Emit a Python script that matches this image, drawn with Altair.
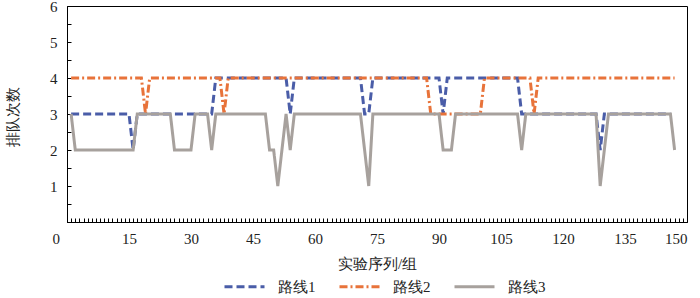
import altair as alt
import pandas as pd

series_names = ["路线1", "路线2", "路线3"]

route1 = [
    3, 3, 3, 3, 3, 3, 3, 3, 3, 3,
    3, 3, 3, 3, 3, 2, 3, 3, 3, 3,
    3, 3, 3, 3, 3, 3, 3, 3, 3, 3,
    3, 3, 3, 3, 3, 4, 4, 4, 4, 4,
    4, 4, 4, 4, 4, 4, 4, 4, 4, 4,
    4, 4, 4, 3, 4, 4, 4, 4, 4, 4,
    4, 4, 4, 4, 4, 4, 4, 4, 4, 4,
    4, 3, 3, 4, 4, 4, 4, 4, 4, 4,
    4, 4, 4, 4, 4, 4, 4, 4, 4, 4,
    3, 4, 4, 4, 4, 4, 4, 4, 4, 4,
    4, 4, 4, 4, 4, 4, 4, 4, 4, 3,
    3, 3, 3, 3, 3, 3, 3, 3, 3, 3,
    3, 3, 3, 3, 3, 3, 3, 3, 2, 3,
    3, 3, 3, 3, 3, 3, 3, 3, 3, 3,
    3, 3, 3, 3, 3, 3,
]

route2 = [
    4, 4, 4, 4, 4, 4, 4, 4, 4, 4,
    4, 4, 4, 4, 4, 4, 4, 4, 3, 4,
    4, 4, 4, 4, 4, 4, 4, 4, 4, 4,
    4, 4, 4, 4, 4, 4, 4, 3, 4, 4,
    4, 4, 4, 4, 4, 4, 4, 4, 4, 4,
    4, 4, 4, 4, 4, 4, 4, 4, 4, 4,
    4, 4, 4, 4, 4, 4, 4, 4, 4, 4,
    4, 4, 4, 4, 4, 4, 4, 4, 4, 4,
    4, 4, 4, 4, 4, 4, 4, 3, 3, 3,
    3, 3, 3, 3, 3, 3, 3, 3, 3, 3,
    4, 4, 4, 4, 4, 4, 4, 4, 4, 4,
    4, 4, 3, 4, 4, 4, 4, 4, 4, 4,
    4, 4, 4, 4, 4, 4, 4, 4, 4, 4,
    4, 4, 4, 4, 4, 4, 4, 4, 4, 4,
    4, 4, 4, 4, 4, 4, 4,
]

route3 = [
    3, 2, 2, 2, 2, 2, 2, 2, 2, 2,
    2, 2, 2, 2, 2, 2, 3, 3, 3, 3,
    3, 3, 3, 3, 3, 2, 2, 2, 2, 2,
    3, 3, 3, 3, 2, 3, 3, 3, 3, 3,
    3, 3, 3, 3, 3, 3, 3, 3, 2, 2,
    1, 2, 3, 2, 3, 3, 3, 3, 3, 3,
    3, 3, 3, 3, 3, 3, 3, 3, 3, 3,
    3, 2, 1, 3, 3, 3, 3, 3, 3, 3,
    3, 3, 3, 3, 3, 3, 3, 3, 3, 3,
    2, 2, 2, 3, 3, 3, 3, 3, 3, 3,
    3, 3, 3, 3, 3, 3, 3, 3, 3, 2,
    3, 3, 3, 3, 3, 3, 3, 3, 3, 3,
    3, 3, 3, 3, 3, 3, 3, 3, 1, 2,
    3, 3, 3, 3, 3, 3, 3, 3, 3, 3,
    3, 3, 3, 3, 3, 3, 2,
]

x_labels = [0, 15, 30, 45, 60, 75, 90, 105, 120, 135, 150]
y_labels = [1, 2, 3, 4, 5, 6]
x_minor = list(range(0, 151))
y_minor = [0, 0.5, 1, 1.5, 2, 2.5, 3, 3.5, 4, 4.5, 5, 5.5, 6]

colors = ["#4A5DA8", "#E8733A", "#A7A19D"]
dashes = [[8, 4], [8, 3, 2, 3], [1, 0]]

rows = []
for name, vals in zip(series_names, [route1, route2, route3]):
    for i, v in enumerate(vals):
        rows.append({"seq": i + 1, "count": v, "route": name})
df = pd.DataFrame(rows)

FONT = "Liberation Serif"

xscale = alt.Scale(domain=[0, 150], nice=False, zero=False)
yscale = alt.Scale(domain=[0, 6], nice=False)

legend = alt.Legend(
    title=None,
    orient="none",
    legendX=156,
    legendY=259,
    direction="horizontal",
    symbolType="stroke",
    symbolSize=1600,
    symbolStrokeWidth=3,
    labelFont=FONT,
    labelFontSize=15,
    labelColor="#222222",
    labelOffset=12,
    columnPadding=17,
)

lines = alt.Chart(df).mark_line(strokeWidth=3).encode(
    x=alt.X(
        "seq:Q",
        scale=xscale,
        axis=alt.Axis(
            values=x_labels,
            ticks=False,
            grid=False,
            domain=True,
            domainColor="black",
            labelFont=FONT,
            labelFontSize=15,
            labelPadding=9,
            labelOffset={"expr": "datum.value == 0 ? -15 : 0"},
            title="实验序列/组",
            titlePadding=10,
        ),
    ),
    y=alt.Y(
        "count:Q",
        scale=yscale,
        axis=alt.Axis(
            values=y_labels,
            ticks=False,
            grid=False,
            domain=True,
            domainColor="black",
            labelFont=FONT,
            labelFontSize=15,
            labelPadding=10,
            title="排队次数",
            titleX=-55,
            titleY=110,
            titleAngle=270,
            titleAlign="center",
            titleBaseline="middle",
        ),
    ),
    color=alt.Color("route:N", scale=alt.Scale(domain=series_names, range=colors), legend=legend),
    strokeDash=alt.StrokeDash("route:N", scale=alt.Scale(domain=series_names, range=dashes), legend=legend),
    order=alt.Order("seq:Q"),
)

ticks_layer = alt.Chart(df).mark_line(opacity=0).encode(
    x=alt.X(
        "seq:Q",
        scale=xscale,
        axis=alt.Axis(
            orient="bottom",
            values=x_minor,
            labels=False,
            domain=False,
            grid=False,
            ticks=True,
            tickSize=4,
            tickColor="black",
            offset=-4,
            title=None,
        ),
    ),
    y=alt.Y(
        "count:Q",
        scale=yscale,
        axis=alt.Axis(
            orient="left",
            values=y_minor,
            labels=False,
            domain=False,
            grid=False,
            ticks=True,
            tickSize=4,
            tickColor="black",
            offset=-4,
            title=None,
        ),
    ),
    detail="route:N",
)

chart = (
    alt.layer(lines, ticks_layer)
    .resolve_axis(x="independent", y="independent")
    .properties(
        width=620,
        height=216,
        padding={"left": 67, "top": 6, "right": 13, "bottom": 76},
        autosize=alt.AutoSizeParams(type="none"),
        background="white",
    )
    .configure(
        font=FONT,
        style={
            "guide-label": {"font": FONT, "fontSize": 15},
            "guide-title": {"font": FONT, "fontSize": 15},
        },
    )
    .configure_view(stroke="black", strokeWidth=1)
    .configure_axis(
        labelFont=FONT,
        labelFontSize=15,
        labelColor="#222222",
        titleFont=FONT,
        titleFontSize=15,
        titleFontWeight="normal",
        titleColor="#222222",
    )
)

chart.save("out.html", embed_options={"renderer": "svg", "actions": False})
